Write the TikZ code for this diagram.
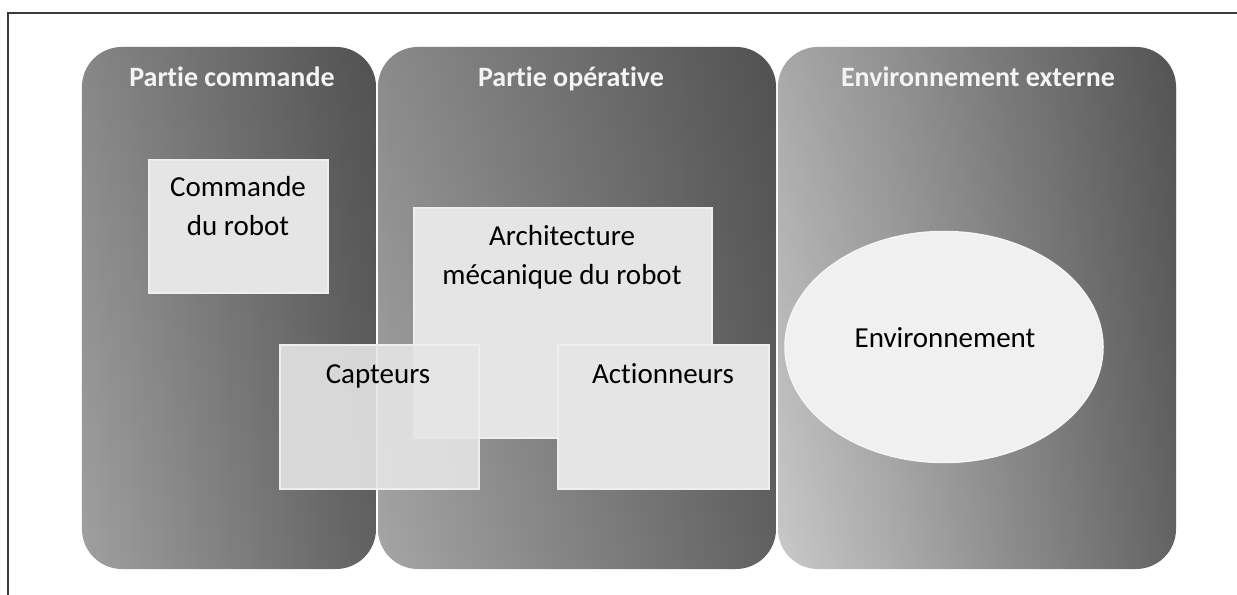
\documentclass[tikz,border=0pt]{standalone}
\usepackage{fontspec}
\setmainfont{Carlito}[Ligatures=CommonOff]
\usetikzlibrary{shapes.geometric,fadings}
\definecolor{frameline}{HTML}{3A3A3A}
\definecolor{boxfill}{HTML}{E5E5E5}
\definecolor{boxline}{HTML}{EEEEEE}
\definecolor{titlecol}{HTML}{F4F4F4}
\tikzfading[name=topdark, top color=transparent!0, middle color=transparent!100, bottom color=transparent!100]
\tikzset{
  panel/.style={rounded corners=40bp, draw=none, inner sep=0pt},
  topshade/.style={rounded corners=40bp, fill=black, fill opacity=0.16, path fading=topdark},
  title/.style={font=\fontsize{28bp}{32bp}\selectfont\bfseries, text=titlecol, anchor=base, inner sep=0pt},
  partbox/.style={rectangle, fill=boxfill, draw=boxline, line width=1.5bp, inner sep=0pt},
  label/.style={font=\fontsize{29bp}{39bp}\selectfont, text=black, inner sep=0pt, align=center},
}
\begin{document}
\begin{tikzpicture}[x=1bp, y=-1bp]
\useasboundingbox (0,0) rectangle (1237,595);
\fill[white] (0,0) rectangle (1237,595);
% frame
\draw[frameline, line width=2bp] (8,595) -- (8,13) -- (1237,13);
% panels
\node[panel, left color=black!37, right color=black!62, minimum width=294bp, minimum height=522bp] (pc) at (229,308) {};
\node[panel, left color=black!35, right color=black!62, minimum width=398bp, minimum height=522bp] (po) at (577,308) {};
\node[panel, left color=black!21, right color=black!61, minimum width=398bp, minimum height=522bp] (pe) at (977,308) {};
\path[topshade] (pc.south west) rectangle (pc.north east);
\path[topshade] (po.south west) rectangle (po.north east);
\path[topshade] (pe.south west) rectangle (pe.north east);
% titles
\node[title] (tpc) at (232,87) {Partie commande};
\node[title] (tpo) at (571,87) {Partie opérative};
\node[title] (tpe) at (978,87) {Environnement externe};
% inner boxes
\node[partbox, minimum width=179bp, minimum height=133bp] (cmd) at (238.5,226.5) {};
\node[partbox, minimum width=298bp, minimum height=230bp] (arch) at (563,323) {};
\node[partbox, fill opacity=0.9, minimum width=199bp, minimum height=144bp] (capt) at (379.5,417) {};
\node[partbox, minimum width=211bp, minimum height=144bp] (act) at (663.5,417) {};
\node[ellipse, fill=black!6, draw=white!96!black, line width=1.5bp, minimum width=318bp, minimum height=231bp, inner sep=0pt] (env) at (944,347) {};
% texts
\node[label, anchor=base] (tcmd) at (238,236) {Commande\\du robot};
\node[label, anchor=base] (tarch) at (562,285) {Architecture\\mécanique du robot};
\node[label, anchor=base] (tcapt) at (378,383) {Capteurs};
\node[label, anchor=base] (tact) at (663,383) {Actionneurs};
\node[label, anchor=base] (tenv) at (945,348) {Environnement};
\end{tikzpicture}
\end{document}
